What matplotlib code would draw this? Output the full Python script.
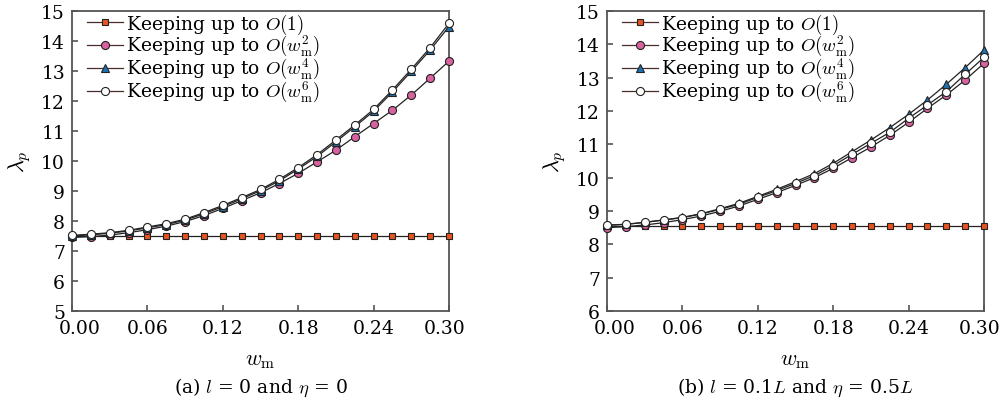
import numpy as np
import matplotlib
matplotlib.use("Agg")
import matplotlib.pyplot as plt
import matplotlib.transforms as mtransforms

plt.rcParams['font.family'] = ['DejaVu Serif']
plt.rcParams['mathtext.fontset'] = 'cm'

# w_m sample points
wm = [0.000, 0.015, 0.030, 0.045, 0.060, 0.075, 0.090, 0.105, 0.120, 0.135, 0.150,
      0.165, 0.180, 0.195, 0.210, 0.225, 0.240, 0.255, 0.270, 0.285, 0.300]

# (a) l = 0, eta = 0
o1_a = [7.5] * 21
w2_a = [7.45, 7.48, 7.53, 7.61, 7.71, 7.83, 7.98, 8.18, 8.42, 8.68, 8.94,
        9.25, 9.59, 9.97, 10.36, 10.81, 11.25, 11.69, 12.20, 12.76, 13.33]
w4_a = [7.50, 7.54, 7.59, 7.67, 7.77, 7.88, 8.03, 8.24, 8.48, 8.74, 9.01,
        9.34, 9.73, 10.15, 10.64, 11.14, 11.66, 12.30, 12.99, 13.70, 14.48]
w6_a = [7.52, 7.56, 7.61, 7.69, 7.80, 7.91, 8.06, 8.28, 8.52, 8.78, 9.05,
        9.39, 9.78, 10.21, 10.70, 11.20, 11.72, 12.37, 13.06, 13.78, 14.59]

# (b) l = 0.1L, eta = 0.5L
o1_b = [8.55] * 21
w2_b = [8.50, 8.53, 8.58, 8.65, 8.74, 8.85, 8.99, 9.15, 9.35, 9.55, 9.77,
        10.00, 10.28, 10.60, 10.92, 11.27, 11.66, 12.08, 12.48, 12.93, 13.43]
w4_b = [8.57, 8.60, 8.66, 8.73, 8.81, 8.92, 9.07, 9.23, 9.44, 9.65, 9.88,
        10.12, 10.43, 10.78, 11.13, 11.50, 11.90, 12.33, 12.80, 13.30, 13.83]
w6_b = [8.58, 8.60, 8.66, 8.73, 8.80, 8.91, 9.05, 9.20, 9.41, 9.61, 9.83,
        10.06, 10.36, 10.70, 11.03, 11.36, 11.78, 12.18, 12.58, 13.10, 13.61]

labels = [r'Keeping up to $O(1)$',
          r'Keeping up to $O(w_{\rm m}^2)$',
          r'Keeping up to $O(w_{\rm m}^4)$',
          r'Keeping up to $O(w_{\rm m}^6)$']
styles = [('s', '#e8531f', 5.0),
          ('o', '#d862a0', 5.8),
          ('^', '#1c74b4', 6.0),
          ('o', 'white', 5.8)]
xticks = [0.00, 0.06, 0.12, 0.18, 0.24, 0.30]
spine_c = '#555555'

fig = plt.figure(figsize=(10.05, 4.06), dpi=100)
ax1 = fig.add_axes([72 / 1005, 1 - 312 / 406, 377 / 1005, 300 / 406])
ax2 = fig.add_axes([607 / 1005, 1 - 312 / 406, 377 / 1005, 300 / 406])

panels = [(ax1, [o1_a, w2_a, w4_a, w6_a], (5, 15), r'(a) $l$ = 0 and $\eta$ = 0'),
          (ax2, [o1_b, w2_b, w4_b, w6_b], (6, 15), r'(b) $l$ = 0.1$L$ and $\eta$ = 0.5$L$')]

for ax, series, ylim, cap in panels:
    for i, (y, lab, (m, fc, ms)) in enumerate(zip(series, labels, styles)):
        ax.plot(wm, y, marker=m, color='#222222', lw=0.9, mfc=fc, mec='#222222',
                mew=0.8, ms=ms, label=lab, zorder=3 + i, clip_on=False)
    ax.set_xlim(0, 0.30)
    ax.set_ylim(*ylim)
    ax.set_xticks(xticks)
    ax.set_xticklabels(['%.2f' % t for t in xticks])
    ax.set_yticks(range(ylim[0], 16))
    ax.tick_params(direction='in', length=4, width=1.2, color=spine_c,
                   labelsize=13.5, top=False, right=False)
    ax.tick_params(axis='x', pad=6)
    ax.tick_params(axis='y', pad=5)
    # end labels sit a little inside, as in the original
    tl = ax.get_xticklabels()
    tl[0].set_transform(tl[0].get_transform() + mtransforms.ScaledTranslation(8 / 100, 0, fig.dpi_scale_trans))
    tl[-1].set_transform(tl[-1].get_transform() + mtransforms.ScaledTranslation(-4 / 100, 0, fig.dpi_scale_trans))
    for s in ax.spines.values():
        s.set_color(spine_c)
        s.set_linewidth(1.3)
    ax.set_xlabel(r'$w_{\rm m}$', fontsize=16, labelpad=8)
    ax.set_ylabel(r'$\lambda_p$', fontsize=16, labelpad=6)
    leg = ax.legend(loc='upper left', bbox_to_anchor=(0.035, 1.005), frameon=False,
                    fontsize=13.5, handlelength=1.9, handletextpad=0.2,
                    labelspacing=-0.12, borderaxespad=0.0, borderpad=0.1)
    for h in leg.get_lines():
        h.set_color('#4a2c2c')
    pos = ax.get_position()
    fig.text(pos.x0 + pos.width / 2, 18 / 406, cap, ha='center', va='center', fontsize=13.5)

fig.savefig('out.png', dpi=100)
